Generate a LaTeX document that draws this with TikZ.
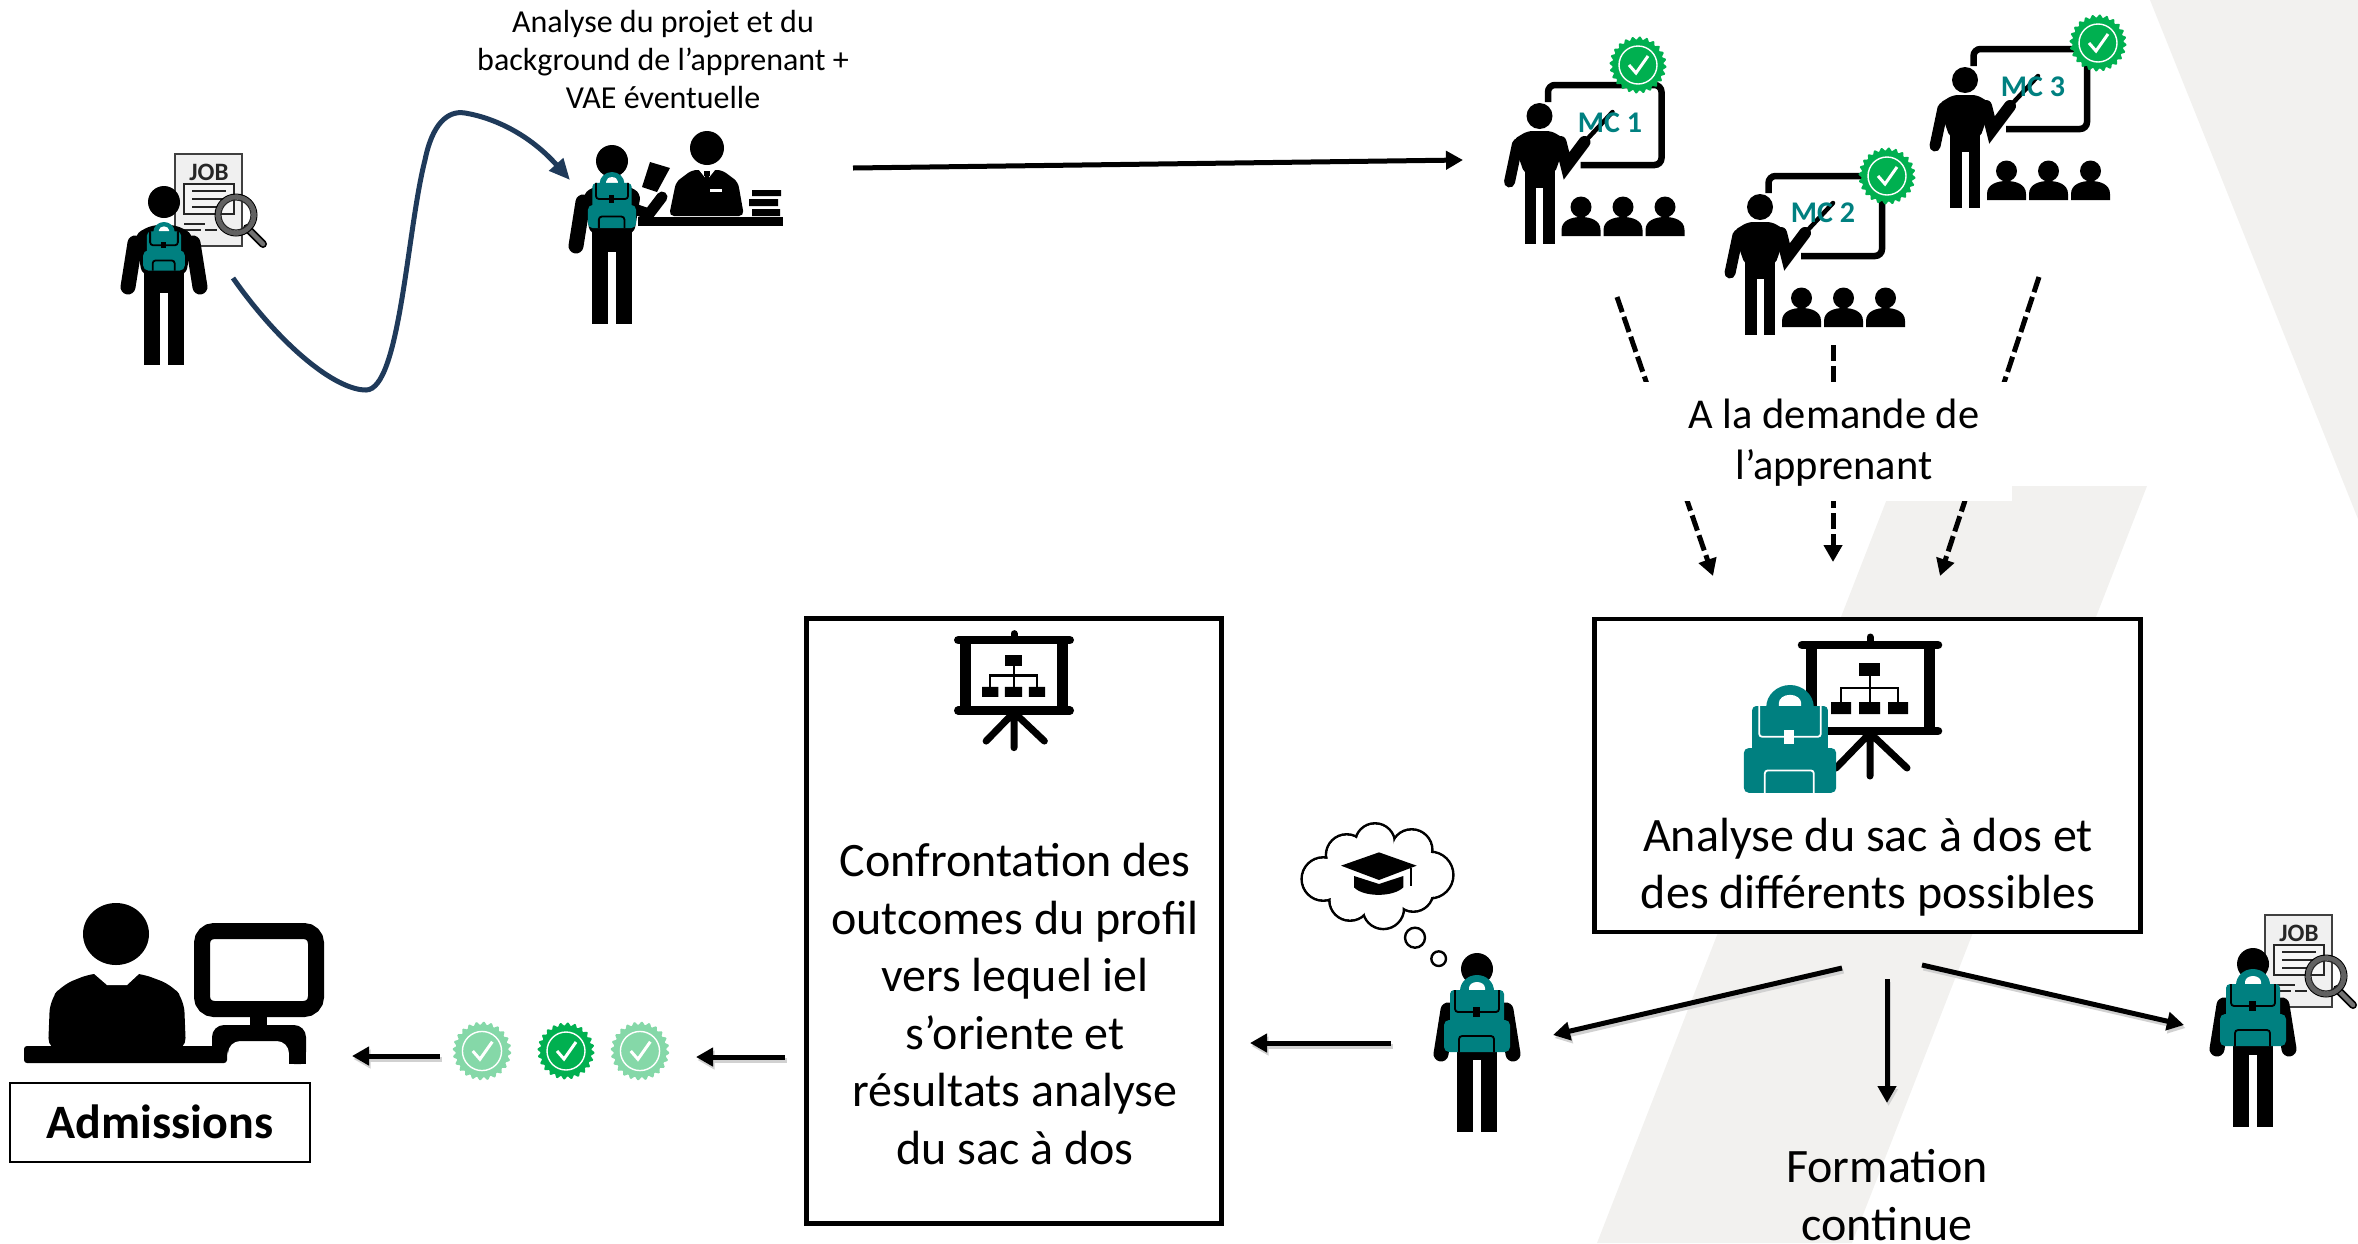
\documentclass[tikz,border=0pt]{standalone}
\usepackage{fontspec}
\setmainfont{Carlito}
\usetikzlibrary{arrows.meta}
\definecolor{teal1}{HTML}{008080}
\definecolor{strip}{HTML}{F2F1EF}
\definecolor{navy1}{HTML}{1F3A5A}
\definecolor{green1}{HTML}{00B050}
\definecolor{green2}{HTML}{85D8A8}
\tikzset{
  x=1pt,y=-1pt,
  conn/.style={black,line width=5pt,-{Triangle[length=17pt,width=18pt]},
    preaction={draw=black!18,line width=5pt,transform canvas={shift={(1.5pt,-3pt)}}}},
  dashconn/.style={black,line width=5pt,dash pattern=on 16pt off 5pt,-{Triangle[length=17pt,width=18pt]}},
  bigtxt/.style={align=center,text=black,inner sep=0pt,font=\fontsize{48}{57.6}\selectfont},
  midtxt/.style={align=center,text=black,inner sep=0pt,font=\fontsize{42.5}{51}\selectfont},
  smalltxt/.style={align=center,text=black,inner sep=0pt,font=\fontsize{32}{38}\selectfont},
  framebox/.style={draw=black,line width=5pt,fill=white,inner sep=0pt},
  mclabel/.style={text=teal1,inner sep=0pt,font=\fontsize{30}{32}\selectfont\bfseries},
}
% backpack: #1,#2 top centre; #3 scale; #4 detail colour
\newcommand{\backpack}[4]{%
  \begin{scope}[shift={(#1,#2)},scale=#3]
    \fill[teal1] (-17,20) -- (-17,16) arc[start angle=180,end angle=360,x radius=17,y radius=16] -- (17,20) -- cycle;
    \fill[white] (-8,15) -- (-8,13) arc[start angle=180,end angle=360,x radius=8,y radius=6] -- (8,15) -- cycle;
    \fill[teal1,rounded corners=4pt] (-27,15) rectangle (27,60);
    \fill[teal1,rounded corners=5pt] (-33,45) rectangle (33,77);
    \draw[#4,line width=1.8pt,rounded corners=3pt] (-22,15) -- (-22,37) -- (22,37) -- (22,15);
    \fill[#4] (-4,32) rectangle (3,42);
    \draw[#4,line width=1.8pt,rounded corners=3pt] (-18,77) -- (-18,61) -- (17,61) -- (17,77);
  \end{scope}}
% standing student seen from the back, without right arm
\newcommand{\studentcore}[2]{%
  \begin{scope}[shift={(#1,#2)}]
    \fill (0,-163) circle[radius=16];
    \fill (-20,0) rectangle (-4,-80);
    \fill (4,0) rectangle (20,-80);
    \fill (-20,-72) rectangle (20,-100);
    \fill[rounded corners=7pt] (-22,-90) -- (-29,-131) -- (-12,-140) -- (12,-140) -- (29,-131) -- (22,-90) -- cycle;
    \draw[line width=15pt,line cap=round] (-29,-122) -- (-36,-78);
  \end{scope}}
\newcommand{\rightarmdown}[2]{\draw[line width=15pt,line cap=round] (#1+29,#2-122) -- (#1+36,#2-78);}
% job sheet and magnifier; origin top-left of the sheet
\newcommand{\jobsheet}[2]{%
  \begin{scope}[shift={(#1,#2)}]
    \draw[draw=black!75,line width=2.2pt,fill=black!6] (0,0) rectangle (67,92);
    \node[inner sep=0pt,font=\fontsize{25}{26}\selectfont\bfseries,text=black!85] (jobtxt#1) at (34,18) {JOB};
    \draw[black!85,line width=2pt,fill=black!4] (9,30) rectangle (59,60);
    \draw[black!85,line width=2.5pt] (17,37) -- (51,37) (17,45) -- (51,45) (17,53) -- (45,53);
    \draw[black!85,line width=2pt] (9,70) -- (30,70) (9,76) -- (26,76) (30,76) -- (42,76);
    \draw[black,line width=8pt,line cap=round] (72,74) -- (88,90);
    \draw[black!55,line width=4.5pt,line cap=round] (72,74) -- (88,90);
    \draw[black!62,line width=5pt] (61,61) circle[radius=18];
    \draw[black,line width=1pt] (61,61) circle[radius=21];
    \draw[black!85,line width=1.2pt] (61,61) circle[radius=15];
  \end{scope}}
% badge
\newcommand{\badge}[4]{%
  \begin{scope}[shift={(#1,#2)},scale=#3]
    \fill[#4] plot[domain=0:360,samples=145,smooth] (\x:{27+1.6*sin(24*\x)}) -- cycle;
    \draw[white,line width=1.4pt] (0,0) circle[radius=19];
    \draw[white,line width=3pt] (-9,0) -- (-2,8) -- (10,-9);
  \end{scope}}
% teacher; origin at feet centre. #3,#4 = badge offset, #5,#6 = label offset, #7 = label
\newcommand{\teacher}[7]{%
  \begin{scope}[shift={(#1,#2)}]
    \draw[line width=6.5pt,rounded corners=7pt] (8.5,-142) -- (8.5,-159) -- (122,-159) -- (122,-79) -- (41,-79);
    \fill (0,-128) circle[radius=13];
    \fill (-15,0) rectangle (-3.5,-60);
    \fill (3.5,0) rectangle (15,-60);
    \fill (-15,-56) rectangle (15,-80);
    \fill[rounded corners=5pt] (-15,-70) -- (-27,-104) -- (-12,-113) -- (12,-113) -- (27,-104) -- (15,-70) -- cycle;
    \draw[line width=11pt,line cap=round] (-22,-100) -- (-30,-62);
    \draw[line width=12pt,line cap=round] (21,-102) -- (27,-78) -- (45,-102);
    \draw[line width=4.5pt,line cap=round] (45,-102) -- (73,-132);
    \foreach \c in {41.5,83.5,125.5}{
      \fill (\c,-37) circle[radius=10.5];
      \fill (\c-19.5,-8) -- (\c-19.5,-14) .. controls (\c-19.5,-24) and (\c-9,-27) .. (\c,-27) .. controls (\c+9,-27) and (\c+19.5,-24) .. (\c+19.5,-14) -- (\c+19.5,-8) -- cycle;
    }
    \badge{#3}{#4}{1}{green1}
    \node[mclabel] (mc#2) at (#5,#6) {#7};
  \end{scope}}
% presentation board; origin at top of stub
\newcommand{\presboard}[3]{%
  \begin{scope}[shift={(#1,#2)},scale=#3]
    \draw[line width=8.5pt,line cap=round] (-68,10) -- (68,10) (-68,96) -- (68,96);
    \draw[line width=7pt,line cap=round] (0,2) -- (0,10);
    \draw[line width=11pt] (-59,10) -- (-59,96) (59,10) -- (59,96);
    \draw[line width=7pt,line cap=round] (0,96) -- (0,141) (0,98) -- (-34,133) (0,98) -- (37,133);
    \fill (-11,28) rectangle (10,41);
    \fill (-39,67) rectangle (-19,79) (-11,67) rectangle (10,79) (18,67) rectangle (38,79);
    \draw[line width=2.4pt] (0,41) -- (0,67) (-29,67) -- (-29,53) -- (28,53) -- (28,67);
  \end{scope}}
\begin{document}
\begin{tikzpicture}
\useasboundingbox (0,0) rectangle (2358,1243);
% background
\fill[strip] (2150,0) -- (2358,0) -- (2358,519) -- cycle;
\fill[strip] (1892,486) -- (2147,486) -- (1852,1243) -- (1597,1243) -- cycle;

% ---- first student
\jobsheet{175}{154}
\studentcore{164}{365}
\rightarmdown{164}{365}
\backpack{164}{222}{0.63}{black}
% ---- second student + clerk
\studentcore{612}{324}
\draw[line width=11pt,line cap=round,line join=round] (634,209) -- (649,214) -- (662,197);
\fill (650,162) -- (670,168) -- (657,192) -- (642,187) -- cycle;
\backpack{612}{172}{0.73}{black}
\fill (707,148) circle[radius=17];
\fill[rounded corners=5pt] (669,216) -- (676,182) -- (692,170) -- (722,170) -- (738,182) -- (744,216) -- cycle;
\fill[white] (699,170) -- (715,170) -- (707,180) -- cycle;
\fill (704,171) rectangle (710,176);
\fill (705,176) -- (709,176) -- (710,186) -- (707,190) -- (704,186) -- cycle;
\fill[white] (710,189) rectangle (722,192);
\fill (638,217) rectangle (783,226);
\fill (752,190) rectangle (781,196) (749,199) rectangle (778,206) (752,209) rectangle (780,216);

\node[smalltxt] (txtprojet) at (663,60) {Analyse du projet et du\\background de l’apprenant +\\VAE éventuelle};

% first connectors
\coordinate (curveA) at (233,278);
\coordinate (curveB) at (570,180);
\draw[navy1,line width=5pt,-{Triangle[length=21pt,width=18pt]}] (curveA) .. controls (280,345) and (335,390) .. (366,390) .. controls (400,390) and (407,230) .. (425,160) .. controls (432,125) and (447,110) .. (465,113) .. controls (495,118) and (530,135) .. (curveB);
\coordinate (longA) at (853,168);
\coordinate (longB) at (1463,160);
\draw[black,line width=5pt,-{Triangle[length=17pt,width=18pt]}] (longA) -- (longB);

% ---- teachers
\teacher{1539.5}{244}{98.5}{-179}{70.5}{-121}{MC 1}
\teacher{1760}{335}{127}{-159}{63}{-122}{MC 2}
\teacher{1965}{208}{133}{-165}{68}{-121}{MC 3}

% ---- dashed connectors, the text box lies over them
\coordinate (dashLa) at (1617,297);
\coordinate (dashLb) at (1713,576);
\coordinate (dashMa) at (1833,345);
\coordinate (dashMb) at (1833,562);
\coordinate (dashRa) at (2039,277);
\coordinate (dashRb) at (1940,576);
\draw[dashconn] (dashLa) -- (dashLb);
\draw[dashconn] (dashMa) -- (dashMb);
\draw[dashconn] (dashRa) -- (dashRb);
\node[fill=white,inner sep=0pt,minimum width=372pt,minimum height=119pt] (demandebg) at (1826,441) {};
\node[midtxt] (demande) at (1834,442.5) {A la demande de\\l’apprenant};

% ---- right box
\node[framebox,line width=4.5pt,minimum width=546pt,minimum height=313pt] (boxR) at (1867.5,775.5) {};
\presboard{1870}{635}{1}
\backpack{1790}{685}{1.4}{white}
\node[bigtxt] (txtsac) at (1868,867) {Analyse du sac à dos et\\des différents possibles};

% ---- left box
\node[framebox,minimum width=415pt,minimum height=605pt] (boxL) at (1013.5,920.5) {};
\presboard{1014}{632}{0.82}
\node[bigtxt] (txtconf) at (1015,1004) {Confrontation des\\outcomes du profil\\vers lequel iel\\s’oriente et\\résultats analyse\\du sac à dos};

% ---- student with thought cloud
\studentcore{1477}{1132}
\rightarmdown{1477}{1132}
\backpack{1477}{975}{1}{black}
\begin{scope}[shift={(1260,800)},scale=1/3]
  \foreach \a/\b/\r in {190/237/65,260/165/62,345/130/60,455/150/62,510/225/70,460/275/60,370/325/62,270/300/62}
    \draw[black,line width=2.6pt] (\a,\b) circle[radius=\r];
  \foreach \a/\b/\r in {190/237/61,260/165/58,345/130/56,455/150/58,510/225/66,460/275/56,370/325/58,270/300/58}
    \fill[white] (\a,\b) circle[radius=\r];
  \fill[white] (350,230) ellipse[x radius=150,y radius=90];
  \fill (243,197) -- (357,157) -- (470,197) -- (357,240) -- cycle;
  \fill (282,228) -- (357,252) -- (430,228) -- (430,262) .. controls (400,292) and (310,292) .. (282,262) -- cycle;
  \draw[line width=1.2pt] (453,205) -- (453,258);
  \draw[line width=2.4pt] (465,413) circle[radius=30];
  \draw[line width=2.4pt] (536,476) circle[radius=22];
\end{scope}

% ---- right student
\jobsheet{2265}{915}
\studentcore{2253}{1127}
\rightarmdown{2253}{1127}
\backpack{2253}{969}{1}{black}

% ---- Formation continue
\node[bigtxt] (txtform) at (1887,1195) {Formation\\continue};

% ---- arrows from the right box
\coordinate (fromL) at (1842,968);
\coordinate (toL) at (1553,1035);
\coordinate (fromM) at (1887,979);
\coordinate (toM) at (1887,1103);
\coordinate (fromR) at (1922,965);
\coordinate (toR) at (2184,1025);
\draw[conn] (fromL) -- (toL);
\draw[conn] (fromM) -- (toM);
\draw[conn] (fromR) -- (toR);
\coordinate (stuC) at (1391,1043);
\coordinate (boxLedge) at (1250,1043);
\draw[conn] (stuC) -- (boxLedge);
\coordinate (badgeIn) at (785,1057);
\coordinate (badgeInEnd) at (696,1057);
\draw[conn] (badgeIn) -- (badgeInEnd);
\coordinate (badgeOut) at (440,1056);
\coordinate (badgeOutEnd) at (352,1056);
\draw[conn] (badgeOut) -- (badgeOutEnd);

% ---- badges
\badge{482}{1051}{1.03}{green2}
\badge{566}{1051}{1}{green1}
\badge{640}{1051}{1.03}{green2}

% ---- admissions
\fill (116,934) ellipse[x radius=33,y radius=31];
\fill[rounded corners=12pt] (48,1050) -- (50,1000) -- (62,985) -- (92,973) -- (140,973) -- (172,985) -- (184,1000) -- (186,1050) -- cycle;
\fill[white] (92,972) -- (107,985) -- (127,985) -- (141,972) -- cycle;
\fill[rounded corners=3pt] (24,1046) rectangle (227,1063);
\draw[line width=16pt,rounded corners=12pt] (202,931) rectangle (316,1009);
\fill (250,1015) rectangle (267,1028);
\fill[rounded corners=12pt] (212,1050) -- (212,1025) -- (306,1025) -- (306,1064) -- (289,1064) -- (289,1041) -- (228,1041) -- (228,1062) -- (212,1062) -- cycle;
\fill (289,1050) rectangle (306,1064);
\node[draw=black,line width=2pt,fill=white,minimum width=300pt,minimum height=79pt,inner sep=0pt,font=\fontsize{48}{52}\selectfont\bfseries] (admis) at (160,1122) {Admissions};
\end{tikzpicture}
\end{document}
